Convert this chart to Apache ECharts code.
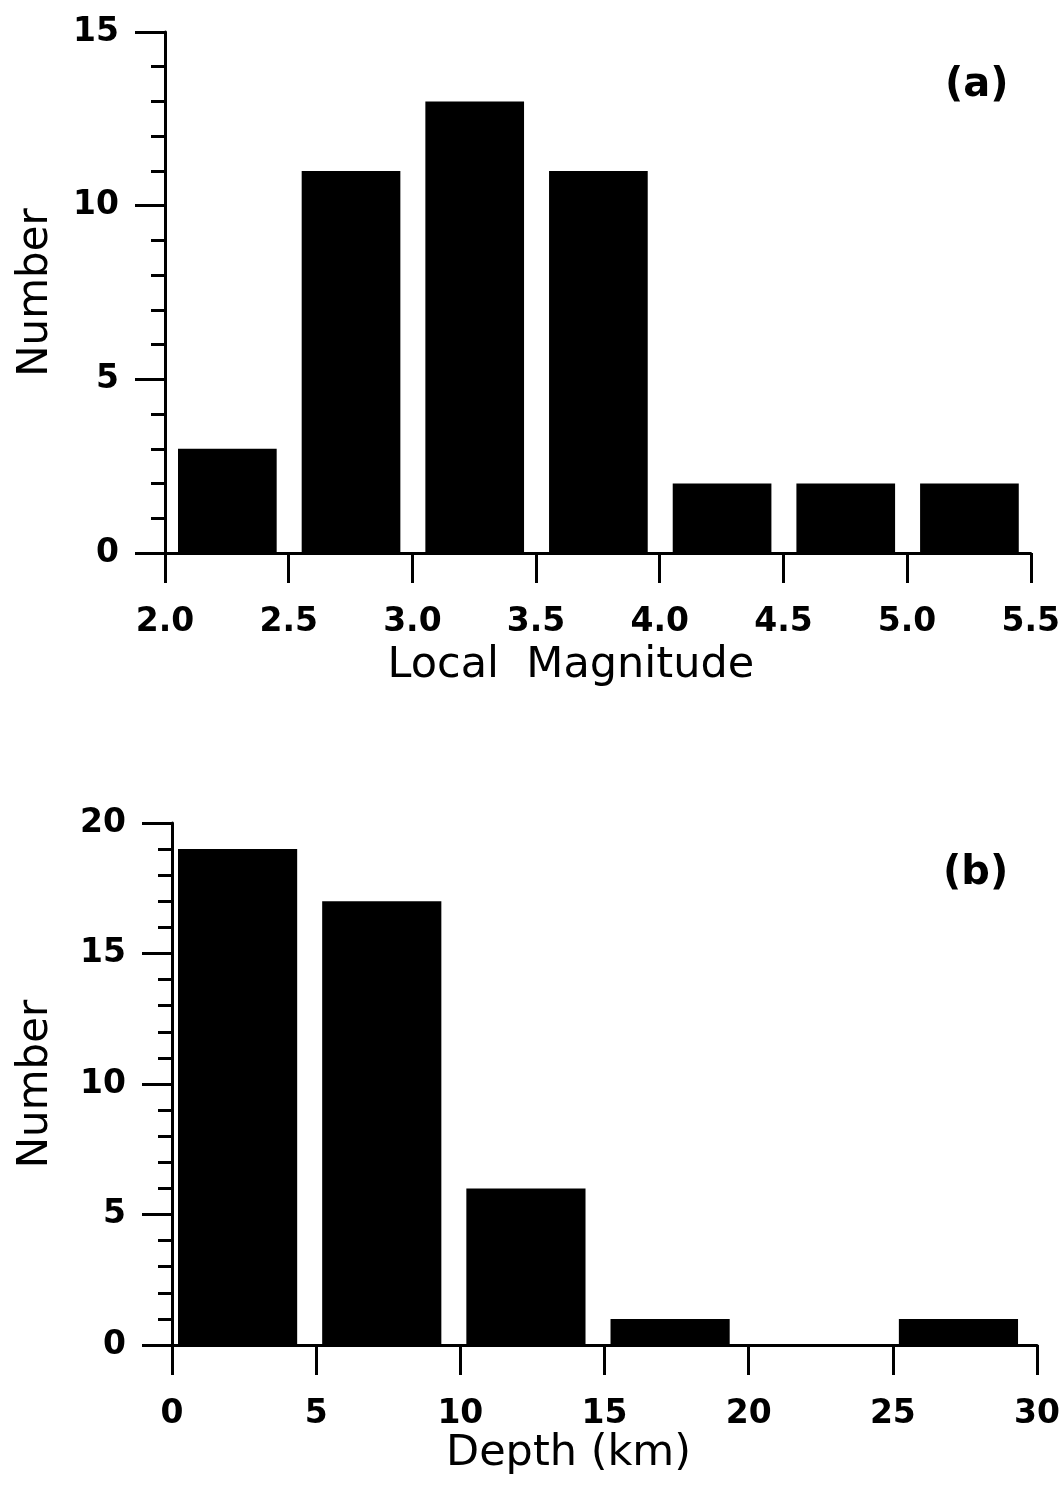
<!DOCTYPE html>
<html>
<head>
<meta charset="utf-8">
<script src="https://cdn.jsdelivr.net/npm/echarts@6/dist/echarts.min.js"></script>
<style>
  html, body { margin: 0; padding: 0; background: #fff; }
  #main { width: 1063px; height: 1504px; }
</style>
</head>
<body>
<div id="main"></div>
<script>
// (a) magnitude histogram
var magStart = [2.0, 2.5, 3.0, 3.5, 4.0, 4.5, 5.0];
var magEnd = [2.5, 3.0, 3.5, 4.0, 4.5, 5.0, 5.5];
var magCount = [3, 11, 13, 11, 2, 2, 2];

// (b) depth histogram
var depthStart = [0, 5, 10, 15, 20, 25];
var depthEnd = [5, 10, 15, 20, 25, 30];
var depthCount = [19, 17, 6, 1, 0, 1];

var FONT = 'DejaVu Sans';

function binData(starts, ends, counts) {
    var out = [];
    for (var i = 0; i < starts.length; i++) {
        out.push([starts[i], ends[i], counts[i]]);
    }
    return out;
}

// bar drawn inside its bin, inset by padL / padR pixels
function histRender(padL, padR) {
    return function (params, api) {
        var p0 = api.coord([api.value(0), 0]);
        var p1 = api.coord([api.value(1), api.value(2)]);
        var x = p0[0] + padL;
        var w = p1[0] - padR - x;
        return {
            type: 'rect',
            shape: { x: x, y: p1[1], width: w, height: p0[1] - p1[1] },
            style: { fill: '#000' }
        };
    };
}

function xAxisOpt(gridIndex, min, max, step, fmt, name, pad, gap) {
    return {
        type: 'value', gridIndex: gridIndex, min: min, max: max, interval: step,
        axisLine: { show: true, onZero: false, lineStyle: { color: '#000', width: 3 } },
        axisTick: { show: true, inside: false, length: 30, lineStyle: { color: '#000', width: 3 } },
        axisLabel: {
            color: '#000', fontFamily: FONT, fontSize: 33, fontWeight: 'bold', margin: 53,
            formatter: fmt
        },
        splitLine: { show: false },
        name: name, nameLocation: 'middle', nameGap: gap,
        nameTextStyle: { color: '#000', fontFamily: FONT, fontSize: 43, padding: pad }
    };
}

function yAxisOpt(gridIndex, max, gap) {
    return {
        type: 'value', gridIndex: gridIndex, min: 0, max: max, interval: 5,
        axisLine: { show: true, lineStyle: { color: '#000', width: 3 } },
        axisTick: { show: true, length: 30, lineStyle: { color: '#000', width: 3 } },
        minorTick: { show: true, splitNumber: 5, length: 14, lineStyle: { color: '#000', width: 3 } },
        axisLabel: { color: '#000', fontFamily: FONT, fontSize: 33, fontWeight: 'bold', margin: 46 },
        splitLine: { show: false },
        name: 'Number', nameLocation: 'middle', nameGap: gap,
        nameTextStyle: { color: '#000', fontFamily: FONT, fontSize: 42 }
    };
}

var chart = echarts.init(document.getElementById('main'), null, { renderer: 'canvas' });

chart.setOption({
    backgroundColor: '#fff',
    animation: false,
    grid: [
        { left: 165, right: 31, top: 32, bottom: 951 },
        { left: 172, right: 18, top: 823, bottom: 159 }
    ],
    xAxis: [
        xAxisOpt(0, 2, 5.5, 0.5, function (v) { return v.toFixed(1); }, 'Local  Magnitude', [0, 54, 0, 0], 91),
        xAxisOpt(1, 0, 30, 5, function (v) { return String(v); }, 'Depth (km)', [0, 72, 0, 0], 84)
    ],
    yAxis: [
        yAxisOpt(0, 15, 108),
        yAxisOpt(1, 20, 115)
    ],
    graphic: [
        {
            type: 'text', left: 945, top: 66,
            style: { text: '(a)', fill: '#000', font: 'bold 40px "DejaVu Sans"' }
        },
        {
            type: 'text', left: 943, top: 854,
            style: { text: '(b)', fill: '#000', font: 'bold 40px "DejaVu Sans"' }
        }
    ],
    series: [
        {
            type: 'custom', xAxisIndex: 0, yAxisIndex: 0,
            renderItem: histRender(13, 12),
            encode: { x: [0, 1], y: 2 },
            data: binData(magStart, magEnd, magCount),
            z: 1
        },
        {
            type: 'custom', xAxisIndex: 1, yAxisIndex: 1,
            renderItem: histRender(6, 19),
            encode: { x: [0, 1], y: 2 },
            data: binData(depthStart, depthEnd, depthCount),
            z: 1
        }
    ]
});
</script>
</body>
</html>
